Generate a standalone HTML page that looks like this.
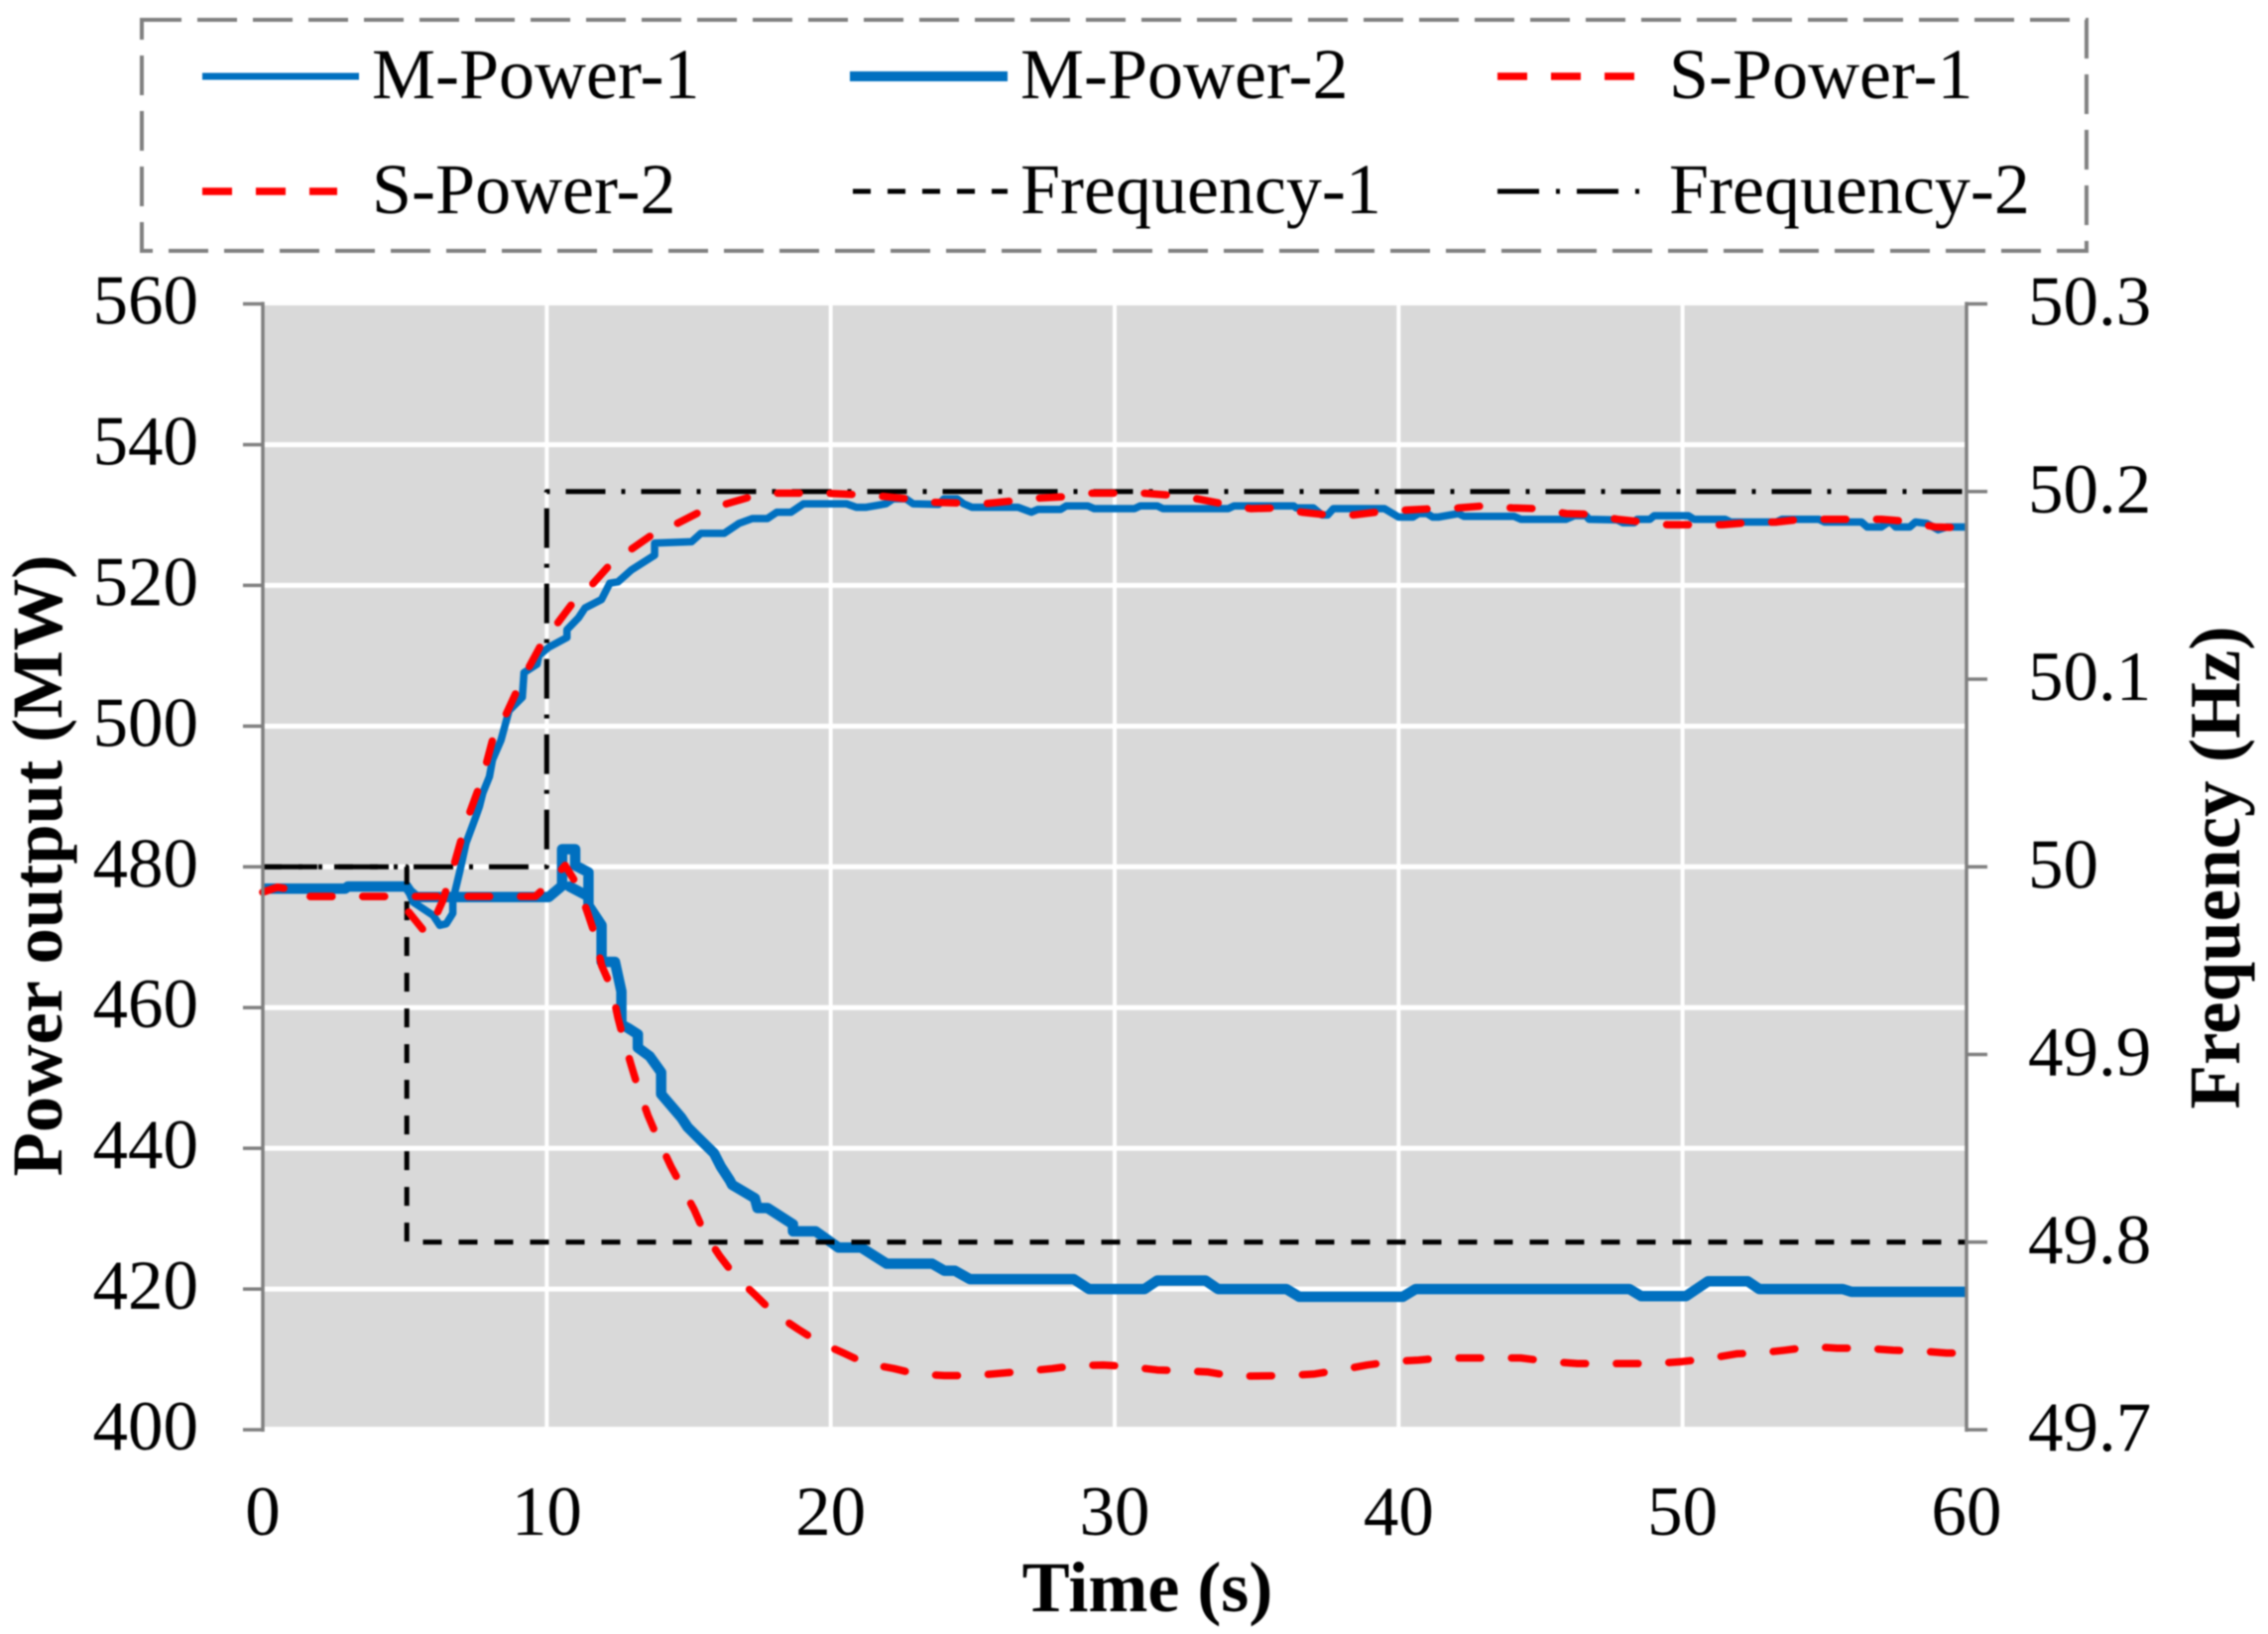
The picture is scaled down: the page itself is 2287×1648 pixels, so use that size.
<!DOCTYPE html>
<html lang="en">
<head>
<meta charset="utf-8">
<title>Power output and frequency chart</title>
<style>
html,body{margin:0;padding:0;background:#fff;}
body{width:2287px;height:1648px;overflow:hidden;}
svg{display:block;filter:blur(0.8px);}
text{font-family:"Liberation Serif","Times New Roman",serif;fill:#000;}
</style>
</head>
<body>
<svg id="chart" xmlns="http://www.w3.org/2000/svg" width="2287" height="1648" viewBox="0 0 2287 1648">
  <rect x="0" y="0" width="2287" height="1648" fill="#fff"/>
  <g id="plot-under"></g>
  <g id="series"></g>
  <g id="axes"></g>

  <text x="1157" y="1625" font-size="72" font-weight="bold" text-anchor="middle">Time (s)</text>
  <text transform="translate(62,873) rotate(-90)" font-size="72.5" font-weight="bold" text-anchor="middle">Power output (MW)</text>
  <text transform="translate(2258,875) rotate(-90)" font-size="73" font-weight="bold" text-anchor="middle">Frequency (Hz)</text>

  <g>
    <rect x="143" y="20" width="1961" height="233" fill="#fff" stroke="#7f7f7f" stroke-width="4" stroke-dasharray="40 16"/>
    <g>
      <line x1="204" y1="77" x2="362" y2="77" stroke="#0070c0" stroke-width="7"/>
      <text x="375" y="99" font-size="72">M-Power-1</text>
    </g>
    <g>
      <line x1="857" y1="77" x2="1016" y2="77" stroke="#0070c0" stroke-width="10"/>
      <text x="1029" y="99" font-size="72">M-Power-2</text>
    </g>
    <g>
      <line x1="1510" y1="77" x2="1648" y2="77" stroke="#ff0000" stroke-width="7.5" stroke-dasharray="30 24"/>
      <text x="1683" y="99" font-size="72">S-Power-1</text>
    </g>
    <g>
      <line x1="204" y1="193" x2="340" y2="193" stroke="#ff0000" stroke-width="7.5" stroke-dasharray="30 24"/>
      <text x="375" y="215" font-size="72">S-Power-2</text>
    </g>
    <g>
      <line x1="860" y1="193" x2="1016" y2="193" stroke="#000" stroke-width="5" stroke-dasharray="18 17"/>
      <text x="1029" y="215" font-size="72">Frequency-1</text>
    </g>
    <g>
      <line x1="1510" y1="193" x2="1667" y2="193" stroke="#000" stroke-width="5" stroke-dasharray="42 17 4 17"/>
      <text x="1683" y="215" font-size="72">Frequency-2</text>
    </g>
  </g>
</svg>
<script>
const xTickLabels = ['0','10','20','30','40','50','60'];
const xTickValues = [0,10,20,30,40,50,60];
const powerTickLabels = ['400','420','440','460','480','500','520','540','560'];
const powerTickValues = [400,420,440,460,480,500,520,540,560];
const freqTickLabels = ['49.7','49.8','49.9','50','50.1','50.2','50.3'];
const freqTickValues = [49.7,49.8,49.9,50,50.1,50.2,50.3];

const mPower1Time = [0,2.9,3,5.06,5.29,6,6.23,6.46,6.69,6.69,6.93,7.16,7.51,7.63,7.75,7.98,8.09,8.39,8.67,9.14,9.2,9.66,9.72,10.07,10.71,10.71,11.12,11.35,11.93,12.22,12.51,12.98,13.8,13.8,15.1,15.43,16.25,16.77,17.24,17.77,18.1,18.6,19.04,20.55,20.9,21.25,21.95,22.2,22.65,22.9,23.8,23.99,24.45,24.68,24.97,26.6,27.07,27.3,28.1,28.3,29.05,29.28,30.7,30.9,31.5,31.7,34,34.2,36.3,36.4,37,37.3,37.5,37.7,39.5,40,40.5,40.7,41,41.2,41.4,42.1,42.3,44.07,44.3,45.9,46.2,46.6,46.7,47.7,47.9,48.3,48.4,48.85,49,50.2,50.4,51.5,51.7,53.3,53.5,54.8,55,56.3,56.5,57,57.3,57.5,58,58.2,58.6,59,59.3,60];
const mPower1Values = [476.9,476.9,477.2,477.2,475,473.1,471.7,471.9,473.4,475.2,479.2,483.4,487.2,488.6,490.5,492.8,495.2,498,502.2,504.1,507.6,508.8,510,511.2,512.6,513.7,515.4,516.8,518,520.3,520.5,522.2,524.3,526,526.2,527.4,527.4,528.8,529.5,529.5,530.4,530.4,531.6,531.6,531.1,531.1,531.6,532.3,532.3,531.6,531.5,532.3,532.3,531.6,531.1,531.1,530.4,530.8,530.8,531.3,531.3,530.9,530.9,531.3,531.3,530.9,530.9,531.3,531.3,531,531,530,530,530.9,530.9,529.7,529.7,530.2,530.2,529.7,529.7,530.2,529.8,529.8,529.4,529.4,529.9,529.9,529.4,529.3,528.9,528.9,529.4,529.4,529.9,529.9,529.4,529.4,529,529,529.4,529.4,529,529,528.3,528.3,529.1,528.3,528.3,529,528.8,527.9,528.3,528.3];

const mPower2Time = [0,2.9,3,5.06,5.18,5.41,10.07,10.54,10.54,11,11,11.47,11.47,10.8,11.47,11.47,11.93,11.93,12.4,12.63,12.63,12.86,13.21,13.21,13.62,14.03,14.03,14.73,14.96,15.31,15.89,16.13,16.44,16.53,17.33,17.42,17.78,18.67,18.67,19.47,20.27,21.07,21.97,23.57,24,24.37,24.9,28.56,29.1,31.05,31.5,33.2,33.64,36.05,36.5,40.15,40.6,48.13,48.54,50.12,50.9,52.3,52.7,55.64,55.95,60];
const mPower2Values = [476.9,476.9,477.2,477.2,476.5,475.7,475.7,477.3,482.5,482.5,480.2,479.2,475.8,477.2,475.8,474.5,471.7,466.5,466.5,462.3,457.6,457.1,456.2,454.3,453.1,450.8,447.7,444.4,443,441.6,439.3,437.4,435.5,434.8,432.9,431.5,431.5,429.2,428.2,428.2,425.9,425.9,423.6,423.6,422.6,422.6,421.4,421.4,420,420,421.2,421.2,420,420,418.9,418.9,420,420,419,419,421.1,421.1,420,420,419.6,419.6];

const sPower1Time = [0,0.52,0.81,0.99,4.6,4.95,5.76,6.05,6.34,6.69,7.16,7.75,8.09,8.5,8.9,9.31,9.78,10.3,10.88,11.53,12.17,12.93,13.68,14.5,15.37,16.25,17.19,18.05,18.98,19.85,20.85,21.7,22.7,23.6,24.5,25.4,26.4,27.3,28.2,29.2,30.1,31,32,32.9,33.8,34.8,35.7,36.6,37.5,38.4,39.4,40.3,41.2,42.1,43,44,44.95,45.9,46.8,47.7,48.6,49.5,50.4,51.4,52.3,53.3,54.2,55.1,56,57,57.9,58.9,60];
const sPower1Values = [476.4,477.1,476.9,475.8,475.8,474.5,470.5,472.6,475.2,479.7,486.3,492.8,498,501.1,504.6,507.9,511.4,514.2,517.3,519.8,522.7,525,527.1,528.6,530.4,531.5,532.6,533.1,533.1,533.1,532.9,532.7,532.3,531.8,531.7,531.6,532,532.4,532.6,533.1,533.1,533.1,532.8,532.3,531.6,530.9,531,530.4,530,530,530.5,530.7,530.9,531,531.3,531,530.9,530.2,530.1,529.4,529,528.6,528.6,528.6,528.9,529,529.4,529.4,529.4,529.4,529.1,528.3,528.2];

const sPower2Time = [0,0.52,0.81,0.99,4.6,9.6,9.95,10.65,11.12,11.47,11.7,11.93,12.28,12.51,12.69,12.98,13.21,13.56,13.91,14.38,15.19,15.55,16.09,16.62,17.33,17.96,18.85,19.56,20.45,21.25,22.23,23.03,24,25,26.8,27.8,28.6,29.6,30.4,31.5,32.3,33.3,34.2,36.05,37,37.95,38.9,39.8,40.7,41.6,42.6,43.5,44.3,45.3,46.3,47.3,49,50,50.9,51.9,52.7,53.6,54.56,55.45,56.4,57.4,58.3,59.3,60];
const sPower2Values = [476.4,477.1,476.9,475.8,475.8,475.8,477.1,480.2,477.1,473.1,470.3,466,462.8,458.5,455.7,451.7,448.7,444.7,441.4,437.4,431.3,428,424.7,421.9,419.2,416.7,414.3,412.5,410.9,409.4,408.7,407.9,407.7,407.7,408.3,408.7,409.1,409.2,409,408.5,408.4,408.2,407.6,407.7,407.9,408.5,409.2,409.7,409.9,410.2,410.2,410.2,410.2,409.7,409.4,409.4,409.4,409.7,410.1,410.8,410.9,411.3,411.8,411.6,411.6,411.3,411.2,410.9,410.9];

const freq1Time = [0,5.07,5.07,60];
const freq1Values = [50,50,49.8,49.8];
const freq2Time = [0,10,10,60];
const freq2Values = [50,50,50.2,50.2];

const plotLeft = 265, plotRight = 1983, plotBottom = 1442, plotTop = 306.5;
function xScale(t){ return plotLeft + (t - 0) / 60 * (plotRight - plotLeft); }
function yPower(v){ return plotBottom - (v - 400) / 160 * (plotBottom - plotTop); }
function yFreq(v){ return plotBottom - (v - 49.7) / 0.6 * (plotBottom - plotTop); }

const NS = 'http://www.w3.org/2000/svg';
const under = document.getElementById('plot-under');
const seriesGroup = document.getElementById('series');
const axes = document.getElementById('axes');
function make(tag, attrs, parent){
  const el = document.createElementNS(NS, tag);
  for (const k in attrs) el.setAttribute(k, attrs[k]);
  parent.appendChild(el);
  return el;
}

const bg = make('rect', {x:plotLeft, y:308, width:plotRight-plotLeft, height:1439-308, fill:'#d9d9d9'}, under);



powerTickValues.forEach(function(v){
  if (v === 400 || v === 560) return;
  const g = make('line', {x1:plotLeft, x2:plotRight, y1:yPower(v), y2:yPower(v), stroke:'#fff', 'stroke-width':5}, under);
  
  
});
xTickValues.forEach(function(v){
  if (v === 0 || v === 60) return;
  const g = make('line', {x1:xScale(v), x2:xScale(v), y1:308, y2:1439, stroke:'#fff', 'stroke-width':4}, under);
  
  
});

function drawSeries(name, times, values, yFn, color, width, dash, cap){
  const d = times.map(function(t, i){
    return (i ? 'L' : 'M') + xScale(t).toFixed(1) + ' ' + yFn(values[i]).toFixed(1);
  }).join(' ');
  const attrs = {d:d, fill:'none', stroke:color, 'stroke-width':width, 'stroke-linejoin':'round'};
  if (dash) attrs['stroke-dasharray'] = dash;
  if (cap) attrs['stroke-linecap'] = cap;
  const p = make('path', attrs, seriesGroup);
  
  
}
drawSeries('series-m-power-1', mPower1Time, mPower1Values, yPower, '#0070c0', 7.5);
drawSeries('series-m-power-2', mPower2Time, mPower2Values, yPower, '#0070c0', 10.5);
drawSeries('series-frequency-1', freq1Time, freq1Values, yFreq, '#000', 5, '19 17');
drawSeries('series-frequency-2', freq2Time, freq2Values, yFreq, '#000', 5, '40 16 4 16');
drawSeries('series-s-power-1', sPower1Time, sPower1Values, yPower, '#ff0000', 7.5, '22 31', 'round');
drawSeries('series-s-power-2', sPower2Time, sPower2Values, yPower, '#ff0000', 7.5, '22 31', 'round');

const axisLeft = make('line', {x1:plotLeft, x2:plotLeft, y1:plotTop-2, y2:plotBottom+2, stroke:'#7f7f7f', 'stroke-width':3.5}, axes);


const axisRight = make('line', {x1:plotRight, x2:plotRight, y1:plotTop-2, y2:plotBottom+2, stroke:'#7f7f7f', 'stroke-width':3.5}, axes);



powerTickValues.forEach(function(v, i){
  const y = yPower(v);
  const t = make('line', {x1:plotLeft-20, x2:plotLeft, y1:y, y2:y, stroke:'#7f7f7f', 'stroke-width':3.5}, axes);
  
  
  const l = make('text', {x:200, y:y+20, 'font-size':71, 'text-anchor':'end'}, axes);
  l.textContent = powerTickLabels[i];
  
  
});
freqTickValues.forEach(function(v, i){
  const y = yFreq(v);
  const t = make('line', {x1:plotRight, x2:plotRight+21, y1:y, y2:y, stroke:'#7f7f7f', 'stroke-width':3.5}, axes);
  
  
  const l = make('text', {x:2045, y:y+21, 'font-size':71}, axes);
  l.textContent = freqTickLabels[i];
  
  
});
xTickValues.forEach(function(v, i){
  const l = make('text', {x:xScale(v), y:1548, 'font-size':71, 'text-anchor':'middle'}, axes);
  l.textContent = xTickLabels[i];
  
  
});
</script>
</body>
</html>
